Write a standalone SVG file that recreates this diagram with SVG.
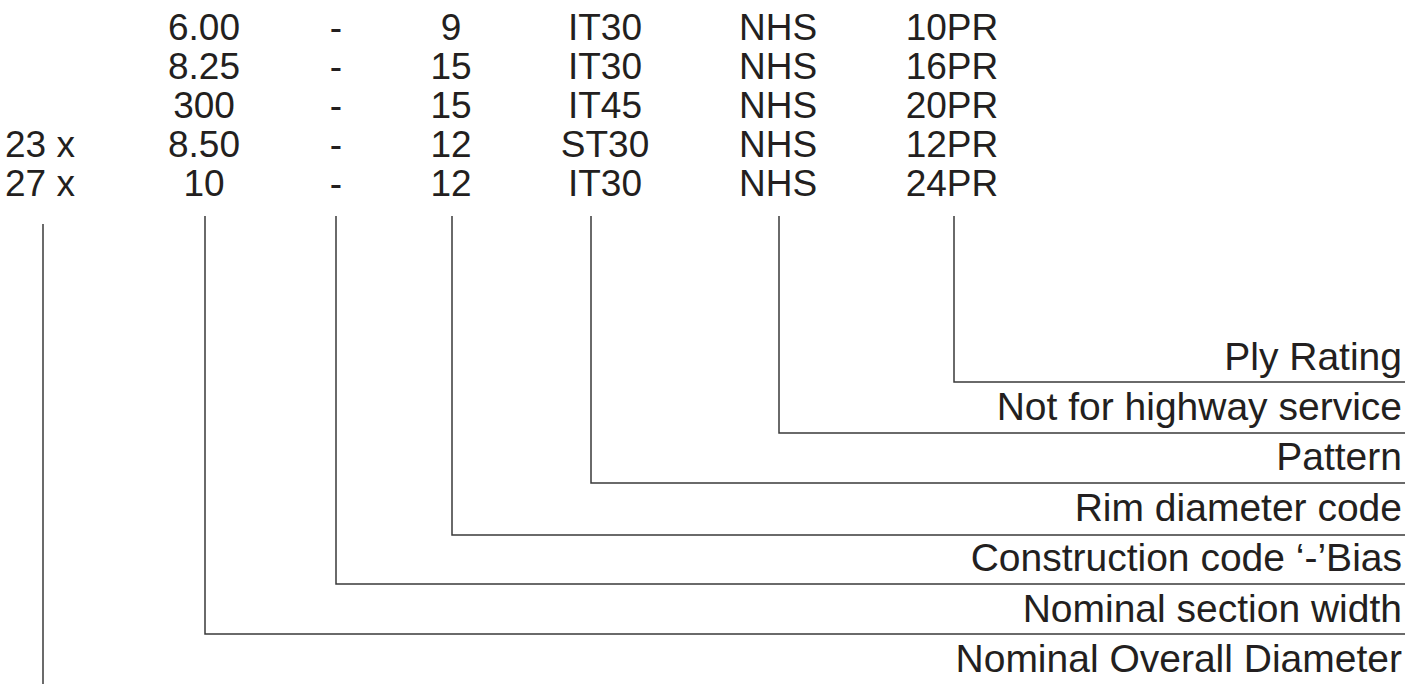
<svg xmlns="http://www.w3.org/2000/svg" width="1424" height="684" viewBox="0 0 1424 684">
<style>
text{font-family:"Liberation Sans",Arial,sans-serif;font-size:37px;fill:#231f20}
.c{text-anchor:middle}
.r{text-anchor:end;font-size:39px}
.ln{fill:none;stroke:#3a3a3a;stroke-width:1.5}
</style>
<rect width="1424" height="684" fill="#fff"/>
<g id="codes">
<text x="5" y="157">23 x</text>
<text x="5" y="196">27 x</text>
<text class="c" x="204" y="40">6.00</text>
<text class="c" x="204" y="79">8.25</text>
<text class="c" x="204" y="118">300</text>
<text class="c" x="204" y="157">8.50</text>
<text class="c" x="204" y="196">10</text>
<text class="c" x="336" y="40">-</text>
<text class="c" x="336" y="79">-</text>
<text class="c" x="336" y="118">-</text>
<text class="c" x="336" y="157">-</text>
<text class="c" x="336" y="196">-</text>
<text class="c" x="451" y="40">9</text>
<text class="c" x="451" y="79">15</text>
<text class="c" x="451" y="118">15</text>
<text class="c" x="451" y="157">12</text>
<text class="c" x="451" y="196">12</text>
<text class="c" x="605" y="40">IT30</text>
<text class="c" x="605" y="79">IT30</text>
<text class="c" x="605" y="118">IT45</text>
<text class="c" x="605" y="157">ST30</text>
<text class="c" x="605" y="196">IT30</text>
<text class="c" x="778" y="40">NHS</text>
<text class="c" x="778" y="79">NHS</text>
<text class="c" x="778" y="118">NHS</text>
<text class="c" x="778" y="157">NHS</text>
<text class="c" x="778" y="196">NHS</text>
<text class="c" x="952" y="40">10PR</text>
<text class="c" x="952" y="79">16PR</text>
<text class="c" x="952" y="118">20PR</text>
<text class="c" x="952" y="157">12PR</text>
<text class="c" x="952" y="196">24PR</text>
</g>
<g id="labels">
<text class="r" x="1402" y="370">Ply Rating</text>
<text class="r" x="1402" y="420">Not for highway service</text>
<text class="r" x="1402" y="470">Pattern</text>
<text class="r" x="1402" y="521">Rim diameter code</text>
<text class="r" x="1402" y="571">Construction code ‘-’Bias</text>
<text class="r" x="1402" y="622">Nominal section width</text>
<text class="r" x="1402" y="672">Nominal Overall Diameter</text>
</g>
<g id="connectors">
<path class="ln" d="M43 224V684"/>
<path class="ln" d="M205 216V634H1405"/>
<path class="ln" d="M336 216V584H1405"/>
<path class="ln" d="M452 216V535H1405"/>
<path class="ln" d="M591 216V483H1405"/>
<path class="ln" d="M779 216V433H1405"/>
<path class="ln" d="M954 216V382H1405"/>
</g>
</svg>
